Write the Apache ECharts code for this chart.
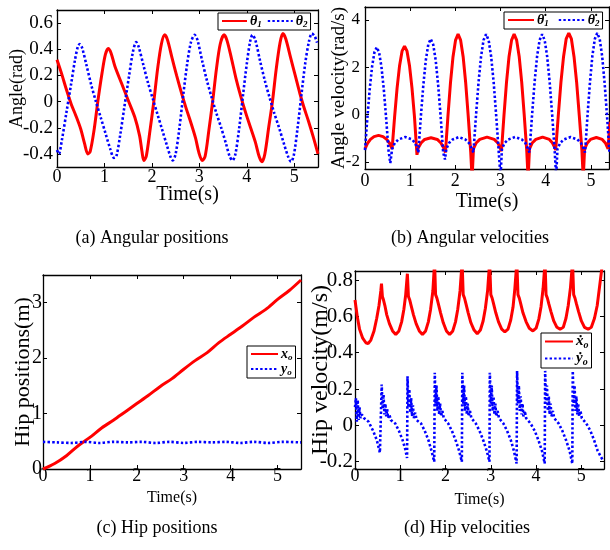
<!DOCTYPE html>
<html><head><meta charset="utf-8">
<script src="https://cdn.jsdelivr.net/npm/echarts@6/dist/echarts.min.js"></script>
<style>html,body{margin:0;padding:0;background:#fff}#c{width:610px;height:550px}</style>
</head><body><div id="c"></div>
<script>
// ---------- data (time s, value) ----------
const theta1 = [[0,0.32],[0.1,0.21],[0.2,0.09],[0.3,-0.02],[0.4,-0.11],[0.5,-0.21],[0.58,-0.32],[0.65,-0.4],[0.7,-0.38],[0.78,-0.22],[0.86,0.0],[0.95,0.22],[1.02,0.36],[1.08,0.405],[1.14,0.37],[1.22,0.27],[1.36,0.14],[1.5,0.01],[1.64,-0.12],[1.74,-0.26],[1.79,-0.38],[1.83,-0.45],[1.88,-0.42],[1.96,-0.22],[2.04,0],[2.12,0.25],[2.2,0.44],[2.27,0.51],[2.33,0.47],[2.42,0.34],[2.52,0.2],[2.62,0.07],[2.72,-0.05],[2.82,-0.16],[2.92,-0.28],[2.99,-0.39],[3.06,-0.45],[3.12,-0.42],[3.2,-0.22],[3.28,0],[3.36,0.25],[3.44,0.44],[3.52,0.51],[3.58,0.47],[3.67,0.34],[3.77,0.18],[3.88,0.03],[3.98,-0.09],[4.08,-0.2],[4.18,-0.31],[4.26,-0.42],[4.32,-0.46],[4.38,-0.4],[4.46,-0.2],[4.54,0],[4.62,0.25],[4.7,0.45],[4.76,0.52],[4.82,0.48],[4.92,0.34],[5.02,0.2],[5.12,0.06],[5.2,-0.04],[5.3,-0.15],[5.4,-0.27],[5.5,-0.4]];
const theta2 = [[0,-0.37],[0.04,-0.4],[0.1,-0.3],[0.2,-0.08],[0.3,0.14],[0.38,0.32],[0.44,0.42],[0.48,0.44],[0.53,0.41],[0.62,0.28],[0.72,0.13],[0.82,0.0],[0.92,-0.12],[1.02,-0.24],[1.12,-0.36],[1.2,-0.43],[1.25,-0.42],[1.33,-0.26],[1.42,-0.04],[1.52,0.2],[1.6,0.38],[1.67,0.455],[1.72,0.42],[1.82,0.28],[1.92,0.14],[2.02,0.02],[2.12,-0.1],[2.22,-0.22],[2.32,-0.34],[2.4,-0.43],[2.44,-0.45],[2.5,-0.4],[2.58,-0.2],[2.66,0.05],[2.74,0.28],[2.82,0.45],[2.9,0.51],[2.96,0.47],[3.06,0.31],[3.16,0.16],[3.26,0.03],[3.36,-0.09],[3.46,-0.2],[3.56,-0.32],[3.64,-0.42],[3.7,-0.45],[3.76,-0.4],[3.84,-0.2],[3.92,0.05],[4.0,0.29],[4.07,0.46],[4.12,0.51],[4.18,0.47],[4.28,0.31],[4.38,0.16],[4.48,0.03],[4.58,-0.09],[4.68,-0.2],[4.78,-0.32],[4.87,-0.42],[4.93,-0.46],[4.99,-0.41],[5.07,-0.2],[5.15,0.05],[5.23,0.29],[5.31,0.46],[5.37,0.52],[5.43,0.5],[5.48,0.45]];
const dtheta1 = [[0,-1.45],[0.06,-1.2],[0.12,-1.05],[0.2,-0.93],[0.3,-0.88],[0.4,-0.93],[0.48,-1.05],[0.54,-1.2],[0.6,-1.45],[0.655,-0.1],[0.71,1.12],[0.765,2.07],[0.82,2.68],[0.875,2.9],[0.93,2.68],[0.985,2.07],[1.04,1.12],[1.095,-0.1],[1.15,-1.7],[1.18,-1.4],[1.24,-1.2],[1.32,-1.05],[1.46,-0.98],[1.6,-1.05],[1.68,-1.2],[1.74,-1.4],[1.78,-1.6],[1.836,-0.05],[1.892,1.35],[1.948,2.45],[2.004,3.15],[2.06,3.4],[2.116,3.15],[2.172,2.45],[2.228,1.35],[2.284,-0.05],[2.34,-1.6],[2.37,-2.7],[2.4,-1.45],[2.46,-1.2],[2.54,-1.05],[2.7,-0.95],[2.86,-1.05],[2.94,-1.2],[3.0,-1.45],[3.02,-1.55],[3.076,-0.02],[3.132,1.37],[3.188,2.46],[3.244,3.15],[3.3,3.4],[3.356,3.15],[3.412,2.46],[3.468,1.37],[3.524,-0.02],[3.58,-1.55],[3.61,-2.7],[3.64,-1.45],[3.7,-1.2],[3.78,-1.05],[3.93,-0.95],[4.08,-1.05],[4.15,-1.2],[4.2,-1.4],[4.22,-1.5],[4.278,-0.03],[4.336,1.36],[4.394,2.45],[4.452,3.2],[4.51,3.45],[4.568,3.2],[4.626,2.45],[4.684,1.36],[4.742,-0.03],[4.8,-1.5],[4.83,-2.7],[4.86,-1.45],[4.92,-1.2],[4.99,-1.05],[5.12,-0.97],[5.25,-1.05],[5.32,-1.2],[5.38,-1.45],[5.42,-0.3]];
const dtheta2 = [[0,-1.5],[0.052,-0.15],[0.104,1.07],[0.156,2.02],[0.208,2.63],[0.26,2.85],[0.312,2.63],[0.364,2.02],[0.416,1.07],[0.468,-0.15],[0.52,-1.5],[0.56,-2.05],[0.6,-1.45],[0.66,-1.2],[0.74,-1.05],[0.89,-0.95],[1.04,-1.05],[1.11,-1.2],[1.16,-1.45],[1.18,-1.6],[1.235,-0.11],[1.29,1.23],[1.345,2.29],[1.4,2.96],[1.455,3.2],[1.51,2.96],[1.565,2.29],[1.62,1.23],[1.675,-0.11],[1.73,-1.6],[1.77,-1.9],[1.8,-1.45],[1.86,-1.2],[1.94,-1.05],[2.08,-0.95],[2.22,-1.05],[2.3,-1.2],[2.37,-1.45],[2.4,-1.6],[2.456,-0.05],[2.512,1.35],[2.568,2.45],[2.624,3.15],[2.68,3.4],[2.736,3.15],[2.792,2.45],[2.848,1.35],[2.904,-0.05],[2.96,-1.6],[3.0,-2.6],[3.03,-1.45],[3.09,-1.2],[3.17,-1.05],[3.32,-0.95],[3.47,-1.05],[3.55,-1.2],[3.61,-1.45],[3.64,-1.6],[3.696,-0.05],[3.752,1.35],[3.808,2.45],[3.864,3.15],[3.92,3.4],[3.976,3.15],[4.032,2.45],[4.088,1.35],[4.144,-0.05],[4.2,-1.6],[4.23,-2.6],[4.26,-1.45],[4.32,-1.2],[4.4,-1.05],[4.55,-0.95],[4.7,-1.05],[4.78,-1.2],[4.84,-1.45],[4.87,-1.6],[4.924,-0.05],[4.978,1.35],[5.032,2.48],[5.086,3.2],[5.14,3.45],[5.194,3.2],[5.248,2.48],[5.302,1.35],[5.356,-0.05],[5.41,-1.6]];
const xo = [[0,0],[0.25,0.1],[0.5,0.24],[0.75,0.42],[1.0,0.57],[1.25,0.74],[1.5,0.88],[1.75,1.03],[2.0,1.18],[2.25,1.33],[2.5,1.49],[2.75,1.63],[3.0,1.8],[3.25,1.96],[3.5,2.1],[3.75,2.28],[4.0,2.43],[4.25,2.58],[4.5,2.74],[4.75,2.88],[5.0,3.06],[5.25,3.22],[5.5,3.41]];
const yo = [[0,0.49],[0.3,0.48],[0.6,0.47],[0.9,0.49],[1.2,0.47],[1.5,0.49],[1.8,0.48],[2.1,0.49],[2.4,0.47],[2.7,0.49],[3.0,0.47],[3.3,0.49],[3.6,0.48],[3.9,0.49],[4.2,0.47],[4.5,0.49],[4.8,0.47],[5.1,0.49],[5.5,0.48]];
const dxo = [[0,0.69],[0.05,0.6],[0.1,0.53],[0.17,0.48],[0.24,0.455],[0.29,0.45],[0.35,0.47],[0.42,0.52],[0.48,0.59],[0.53,0.66],[0.57,0.74],[0.585,0.78],[0.605,0.71],[0.63,0.69],[0.66,0.66],[0.7,0.61],[0.76,0.56],[0.83,0.52],[0.9,0.5],[0.97,0.52],[1.03,0.57],[1.08,0.64],[1.12,0.72],[1.157,0.835],[1.18,0.71],[1.21,0.69],[1.24,0.66],[1.29,0.61],[1.35,0.56],[1.42,0.52],[1.49,0.5],[1.56,0.52],[1.62,0.57],[1.67,0.64],[1.72,0.74],[1.758,0.9],[1.78,0.72],[1.81,0.7],[1.84,0.67],[1.89,0.62],[1.95,0.565],[2.02,0.52],[2.09,0.5],[2.16,0.52],[2.22,0.57],[2.27,0.64],[2.32,0.74],[2.366,0.9],[2.39,0.72],[2.42,0.7],[2.45,0.67],[2.5,0.62],[2.56,0.565],[2.63,0.525],[2.7,0.505],[2.77,0.525],[2.83,0.575],[2.88,0.645],[2.93,0.745],[2.974,0.9],[3.0,0.72],[3.03,0.7],[3.06,0.67],[3.11,0.62],[3.17,0.57],[3.24,0.53],[3.31,0.515],[3.38,0.53],[3.44,0.58],[3.49,0.65],[3.53,0.75],[3.575,0.9],[3.6,0.72],[3.63,0.7],[3.66,0.67],[3.71,0.62],[3.78,0.57],[3.85,0.535],[3.93,0.52],[4.0,0.535],[4.06,0.585],[4.11,0.655],[4.155,0.755],[4.198,0.9],[4.22,0.72],[4.25,0.7],[4.28,0.67],[4.33,0.625],[4.39,0.575],[4.46,0.54],[4.53,0.53],[4.6,0.54],[4.66,0.59],[4.71,0.66],[4.76,0.76],[4.805,0.9],[4.83,0.72],[4.86,0.7],[4.89,0.67],[4.94,0.625],[5.0,0.575],[5.07,0.54],[5.15,0.53],[5.22,0.54],[5.29,0.59],[5.35,0.66],[5.4,0.76],[5.47,0.9]];
const dyo = [[0,0.1],[0.02,0.15],[0.04,0.02],[0.06,0.14],[0.08,0.03],[0.1,0.1],[0.12,0.04],[0.15,0.06],[0.2,0.04],[0.3,0.02],[0.4,-0.03],[0.48,-0.08],[0.55,-0.15],[0.58,-0.16],[0.59,0.225],[0.61,0.09],[0.63,0.17],[0.65,0.06],[0.67,0.12],[0.69,0.05],[0.71,0.09],[0.73,0.04],[0.76,0.06],[0.79,0.03],[0.89,0.01],[0.97,-0.03],[1.05,-0.08],[1.11,-0.13],[1.15,-0.18],[1.16,0.27],[1.18,0.1],[1.2,0.2],[1.22,0.07],[1.24,0.15],[1.26,0.05],[1.28,0.11],[1.3,0.04],[1.33,0.07],[1.36,0.03],[1.46,0.01],[1.54,-0.03],[1.62,-0.08],[1.69,-0.14],[1.75,-0.2],[1.762,0.29],[1.78,0.12],[1.8,0.22],[1.82,0.08],[1.84,0.16],[1.86,0.06],[1.88,0.12],[1.9,0.05],[1.93,0.08],[1.96,0.04],[2.06,0.01],[2.14,-0.03],[2.22,-0.08],[2.3,-0.14],[2.36,-0.2],[2.37,0.29],[2.39,0.12],[2.41,0.22],[2.43,0.08],[2.45,0.16],[2.47,0.06],[2.49,0.12],[2.51,0.05],[2.54,0.08],[2.57,0.04],[2.67,0.01],[2.75,-0.03],[2.83,-0.08],[2.91,-0.14],[2.97,-0.2],[2.978,0.29],[3.0,0.12],[3.02,0.22],[3.04,0.08],[3.06,0.16],[3.08,0.06],[3.1,0.12],[3.12,0.05],[3.15,0.08],[3.18,0.04],[3.28,0.01],[3.36,-0.03],[3.44,-0.08],[3.51,-0.14],[3.57,-0.21],[3.58,0.3],[3.6,0.12],[3.62,0.22],[3.64,0.08],[3.66,0.16],[3.68,0.06],[3.7,0.12],[3.72,0.05],[3.75,0.08],[3.78,0.04],[3.88,0.01],[3.97,-0.03],[4.05,-0.08],[4.13,-0.14],[4.19,-0.21],[4.2,0.3],[4.22,0.12],[4.24,0.22],[4.26,0.08],[4.28,0.16],[4.3,0.06],[4.32,0.12],[4.34,0.05],[4.37,0.08],[4.4,0.04],[4.5,0.01],[4.58,-0.03],[4.66,-0.08],[4.74,-0.14],[4.8,-0.21],[4.81,0.3],[4.83,0.12],[4.85,0.22],[4.87,0.08],[4.89,0.16],[4.91,0.06],[4.93,0.12],[4.95,0.05],[4.98,0.08],[5.01,0.04],[5.11,0.01],[5.2,-0.03],[5.28,-0.08],[5.36,-0.14],[5.47,-0.19]];

const xTicks = [0,1,2,3,4,5];
const yTicksA = [-0.4,-0.2,0,0.2,0.4,0.6];
const yTicksB = [-2,0,2,4];
const yTicksC = [0,1,2,3];
const yTicksD = [-0.2,0,0.2,0.4,0.6,0.8];
const captions = ['(a) Angular positions','(b) Angular velocities','(c) Hip positions','(d) Hip velocities'];

// ---------- layout ----------
const FONT = 'Liberation Serif';
const P = [
  {grid:{left:57,top:10,width:261,height:157}, x:[0,5.5], y:[-0.5,0.7], yt:yTicksA, xFs:18, yFs:19, yName:'Angle(rad)', yNameFs:18, yGap:31, xNameFs:20, xGap:18, yMargin:4, xMargin:1},
  {grid:{left:365,top:7,width:244,height:162}, x:[0,5.4], y:[-2.3,4.55], yt:yTicksB, xFs:18, yFs:17, yName:'Angle velocity(rad/s)', yNameFs:19, yGap:16, xNameFs:20, xGap:23, yMargin:5, xMargin:3},
  {grid:{left:43,top:275,width:258,height:194}, x:[0,5.5], y:[0,3.5], yt:yTicksC, xFs:18, yFs:20, yName:'Hip positions(m)', yNameFs:22, yGap:9, xNameFs:16, xGap:21, yMargin:1, xMargin:-2},
  {grid:{left:355,top:271,width:249,height:198}, x:[0,5.5], y:[-0.24,0.85], yt:yTicksD, xFs:18, yFs:21, yName:'Hip velocity(m/s)', yNameFs:24, yGap:22, xNameFs:16, xGap:23, yMargin:2, xMargin:-2}
];
const capPos = [[152,238],[470,238],[157,528],[467,528]];

const lineAx = {show:true, onZero:false, lineStyle:{color:'#000', width:1.3}};
const xAxis = [], yAxis = [];
P.forEach((p,i)=>{
  ['bottom','top'].forEach(pos=>{
    const main = pos==='bottom';
    xAxis.push({type:'value', gridIndex:i, position:pos, min:p.x[0], max:p.x[1],
      axisLine:lineAx,
      axisTick:{show:true, inside:true, length:4, customValues:xTicks, lineStyle:{color:'#000', width:1}},
      axisLabel:{show:main, customValues:xTicks, color:'#000', fontFamily:FONT, fontSize:p.xFs, margin:p.xMargin},
      splitLine:{show:false},
      name: main ? 'Time(s)' : '', nameLocation:'middle', nameGap:p.xGap, nameMoveOverlap:false,
      nameTextStyle:{color:'#000', fontFamily:FONT, fontSize:p.xNameFs}});
  });
  ['left','right'].forEach(pos=>{
    const main = pos==='left';
    yAxis.push({type:'value', gridIndex:i, position:pos, min:p.y[0], max:p.y[1],
      axisLine:lineAx,
      axisTick:{show:true, inside:true, length:4, customValues:p.yt, lineStyle:{color:'#000', width:1}},
      axisLabel:{show:main, customValues:p.yt, color:'#000', fontFamily:FONT, fontSize:p.yFs, margin:p.yMargin},
      splitLine:{show:false},
      name: main ? p.yName : '', nameLocation:'middle', nameGap:p.yGap, nameMoveOverlap:false,
      nameTextStyle:{color:'#000', fontFamily:FONT, fontSize:p.yNameFs}});
  });
});

const RED = '#ff0000', BLUE = '#0000ff';
function red(name, i, data, smooth){ return {type:'line', name, xAxisIndex:2*i, yAxisIndex:2*i, data, symbol:'none', smooth, clip:true, lineStyle:{color:RED, width:3}, itemStyle:{color:RED}, z:2}; }
function blue(name, i, data, smooth){ return {type:'line', name, xAxisIndex:2*i, yAxisIndex:2*i, data, symbol:'none', smooth, clip:true, lineStyle:{color:BLUE, width:2.6, type:[2.4,2.2]}, itemStyle:{color:BLUE}, z:3}; }

const legendLabel = {
  't1':'{m|θ}{s|1}', 't2':'{m|θ}{s|2}',
  'd1':'{m|θ̇}{s|1}', 'd2':'{m|θ̇}{s|2}',
  'x':'{m|x}{s|o}', 'y':'{m|y}{s|o}',
  'dx':'{m|ẋ}{s|o}', 'dy':'{m|ẏ}{s|o}'
};
function rich(fs){ return {
  m:{fontFamily:FONT, fontStyle:'italic', fontWeight:'bold', fontSize:fs, color:'#000', lineHeight:fs+2},
  s:{fontFamily:FONT, fontStyle:'italic', fontWeight:'bold', fontSize:Math.round(fs*0.65), color:'#000', lineHeight:9, verticalAlign:'bottom'}
};}
function legend(names, left, top, orient, w, gap, fs){
  return {data:names, left, top, orient, selectedMode:false, itemWidth:w, itemHeight:12, itemGap:gap,
    padding:[1,3,1,3], borderColor:'#000', borderWidth:1, backgroundColor:'#fff', borderRadius:0,
    itemStyle:{color:'transparent', borderWidth:0, opacity:0},
    formatter:n=>legendLabel[n], textStyle:{fontFamily:FONT, fontSize:fs, color:'#000', padding:[0,0,0,-2], rich:rich(fs)}};
}

const option = {
  animation:false,
  backgroundColor:'#fff',
  textStyle:{fontFamily:FONT},
  grid:P.map(p=>Object.assign({show:true, borderColor:'#000', borderWidth:0, backgroundColor:'transparent', containLabel:false}, p.grid)),
  xAxis, yAxis,
  legend:[
    legend(['t1','t2'], 218, 13, 'horizontal', 25, 5, 14),
    legend(['d1','d2'], 504, 12, 'horizontal', 26, 9, 14),
    legend(['x','y'], 247, 346, 'vertical', 27, 0, 14),
    legend(['dx','dy'], 541, 333, 'vertical', 28, 1, 15)
  ],
  series:[
    red('t1',0,theta1,0.3), blue('t2',0,theta2,0.3),
    red('d1',1,dtheta1,false), blue('d2',1,dtheta2,false),
    red('x',2,xo,0.3), blue('y',2,yo,0.3),
    red('dx',3,dxo,false), blue('dy',3,dyo,false)
  ],
  graphic: captions.map((t,i)=>({type:'text', x:capPos[i][0], y:capPos[i][1],
    style:{text:t, fontFamily:FONT, fontSize:18, fill:'#000', align:'center', verticalAlign:'middle', textAlign:'center', textVerticalAlign:'middle'}}))
};
const chart = echarts.init(document.getElementById('c'), null, {renderer:'canvas'});
chart.setOption(option);
</script></body></html>
